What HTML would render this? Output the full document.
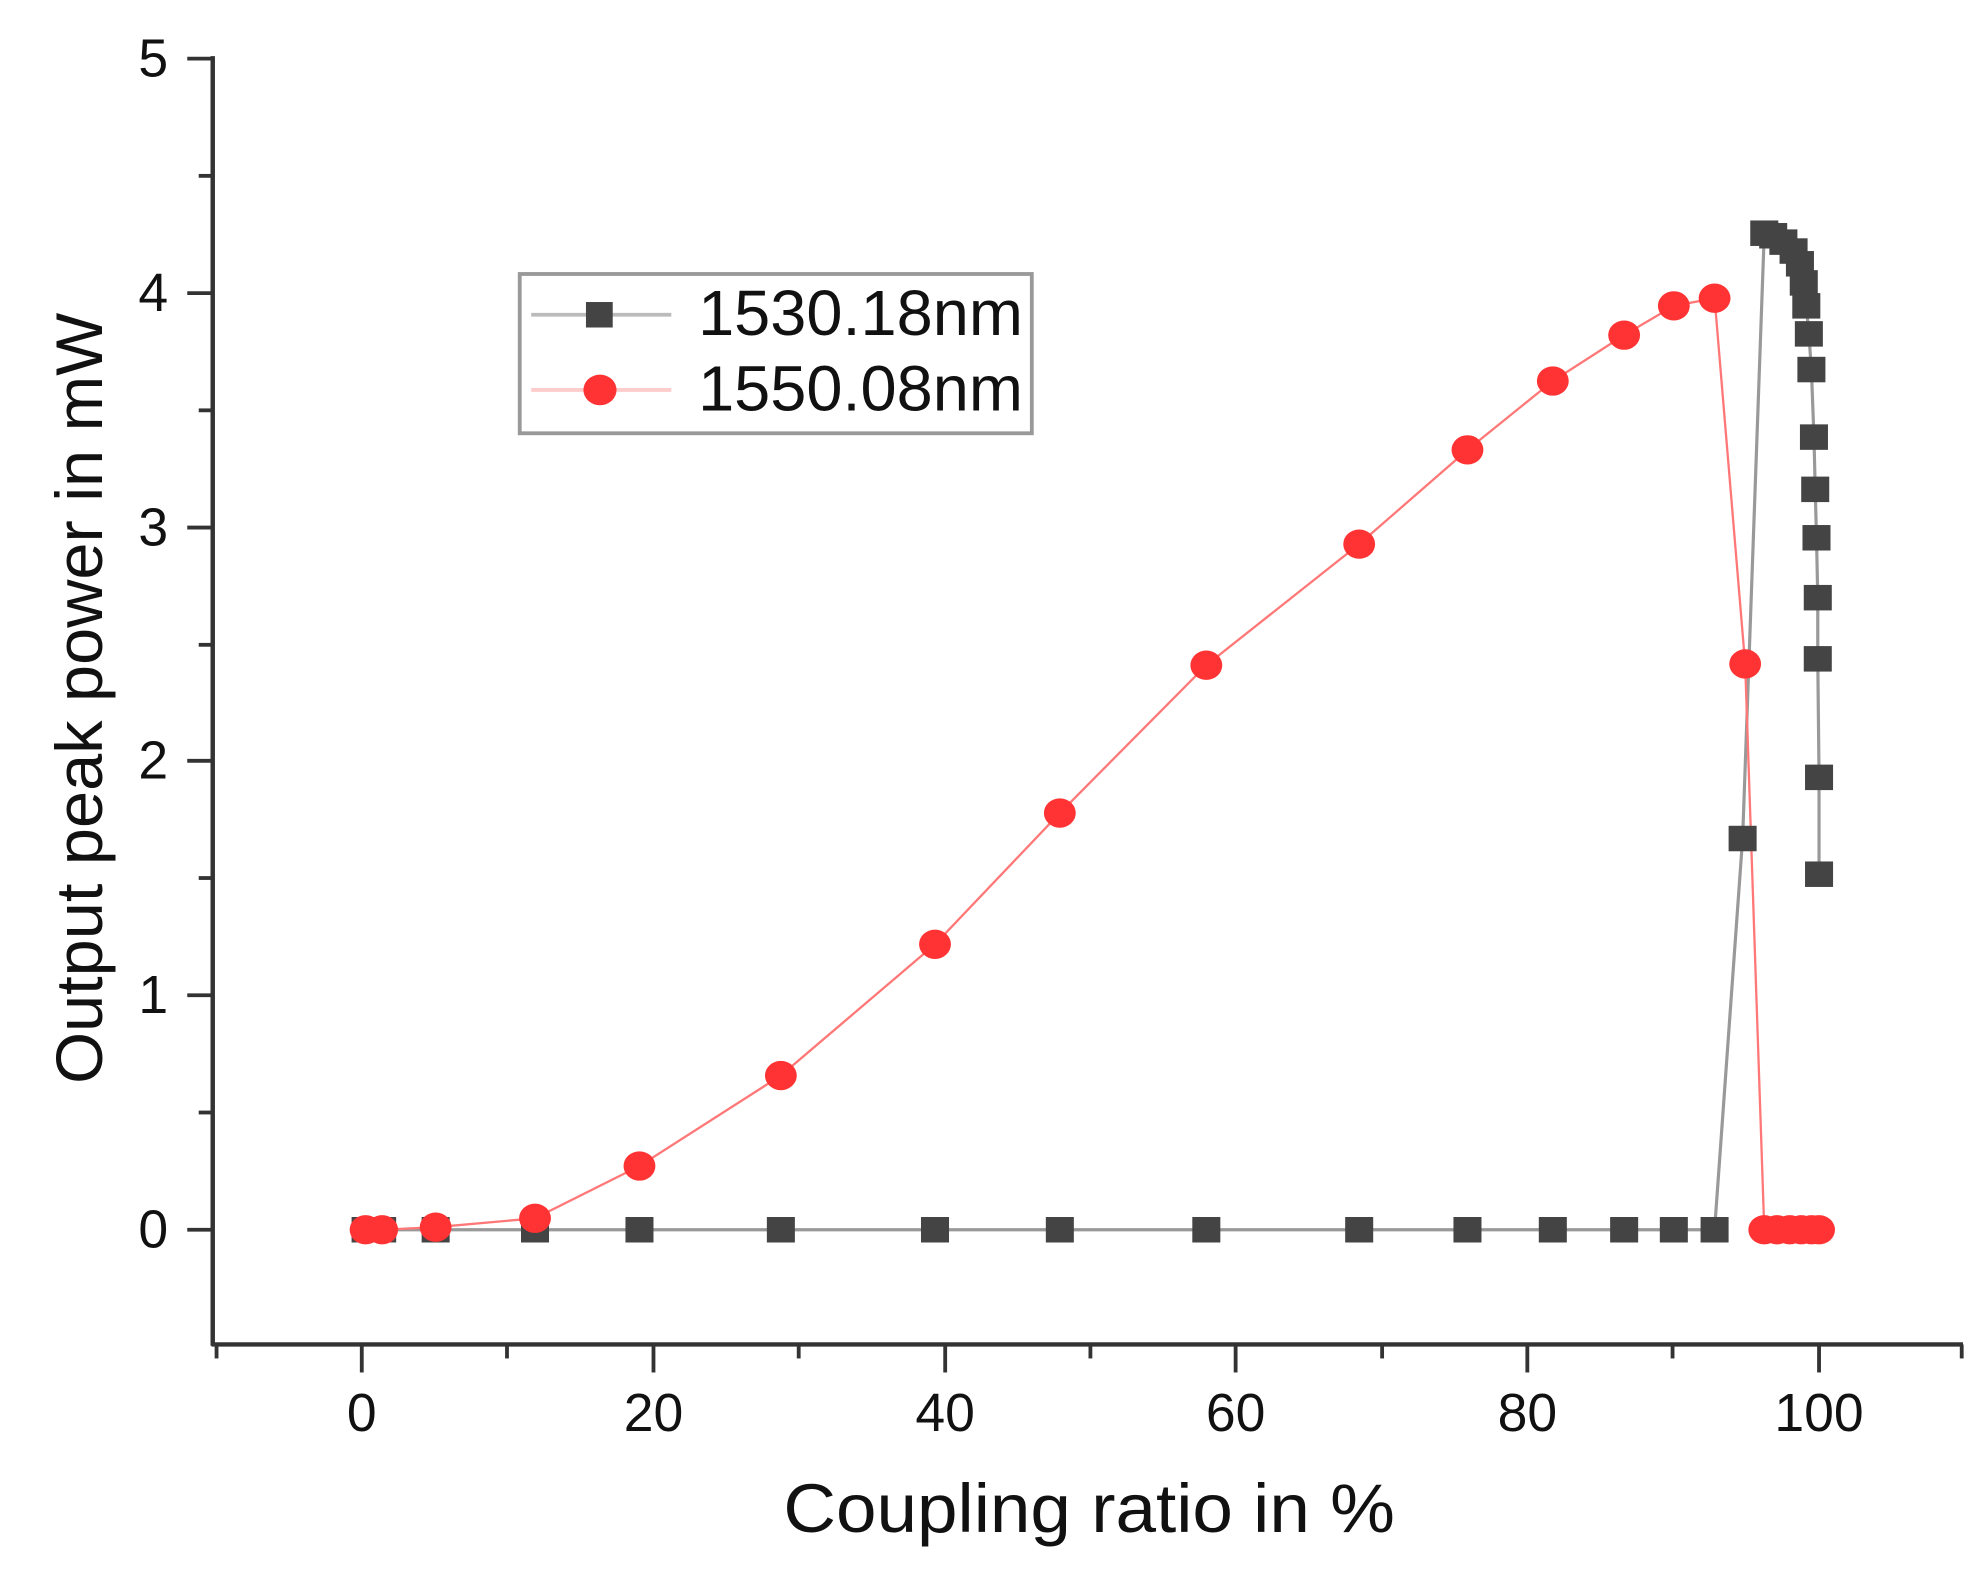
<!DOCTYPE html>
<html><head><meta charset="utf-8"><style>html,body{margin:0;padding:0;background:#fff}svg{display:block}</style></head>
<body>
<svg width="1977" height="1570" viewBox="0 0 1552 1232" preserveAspectRatio="none" xmlns="http://www.w3.org/2000/svg" font-family="Liberation Sans, sans-serif">
<rect width="1552" height="1232" fill="#fff"/>
<g stroke="#333" stroke-width="3.5" fill="none">
<line x1="167" y1="44" x2="167" y2="1056"/>
<line x1="166" y1="1055" x2="1541" y2="1055"/>
</g>
<g stroke="#333" stroke-width="3">
<line x1="147" y1="46" x2="167" y2="46"/><line x1="147" y1="230" x2="167" y2="230"/><line x1="147" y1="414" x2="167" y2="414"/><line x1="147" y1="597" x2="167" y2="597"/><line x1="147" y1="781" x2="167" y2="781"/><line x1="147" y1="965" x2="167" y2="965"/>
<line x1="156" y1="138" x2="167" y2="138"/><line x1="156" y1="322" x2="167" y2="322"/><line x1="156" y1="506" x2="167" y2="506"/><line x1="156" y1="689" x2="167" y2="689"/><line x1="156" y1="873" x2="167" y2="873"/>
<line x1="284" y1="1055" x2="284" y2="1077"/><line x1="513" y1="1055" x2="513" y2="1077"/><line x1="742" y1="1055" x2="742" y2="1077"/><line x1="970" y1="1055" x2="970" y2="1077"/><line x1="1199" y1="1055" x2="1199" y2="1077"/><line x1="1428" y1="1055" x2="1428" y2="1077"/>
<line x1="170" y1="1055" x2="170" y2="1066"/><line x1="398" y1="1055" x2="398" y2="1066"/><line x1="627" y1="1055" x2="627" y2="1066"/><line x1="856" y1="1055" x2="856" y2="1066"/><line x1="1085" y1="1055" x2="1085" y2="1066"/><line x1="1313" y1="1055" x2="1313" y2="1066"/><line x1="1540" y1="1055" x2="1540" y2="1066"/>
</g>
<g font-size="42" fill="#111" text-anchor="end">
<text x="132" y="60">5</text><text x="132" y="244">4</text><text x="132" y="428">3</text><text x="132" y="611">2</text><text x="132" y="795">1</text><text x="132" y="979">0</text>
</g>
<g font-size="42" fill="#111" text-anchor="middle">
<text x="284" y="1123">0</text><text x="513" y="1123">20</text><text x="742" y="1123">40</text><text x="970" y="1123">60</text><text x="1199" y="1123">80</text><text x="1428" y="1123">100</text>
</g>
<text x="855" y="1202" font-size="54" text-anchor="middle" fill="#111" textLength="480" lengthAdjust="spacingAndGlyphs">Coupling ratio in %</text>
<text transform="translate(80,548) rotate(-90)" font-size="52" text-anchor="middle" fill="#111" textLength="605" lengthAdjust="spacingAndGlyphs">Output peak power in mW</text>
<polyline fill="none" stroke="#999" stroke-width="2.5" points="287,965 300,965 342,965 420,965 502,965 613,965 734,965 832,965 947,965 1067,965 1152,965 1219,965 1275,965 1314,965 1346,965 1368,658 1385,183 1392,185 1400,190 1408,197 1413,207 1416,222 1418,240 1420,262 1422,290 1424,343 1425,384 1426,422 1427,469 1427,517 1428,610 1428,686"/>
<polyline fill="none" stroke="#f77" stroke-width="1.8" points="287,965 300,965 342,963 420,956 502,915 613,844 734,741 832,638 947,522 1067,427 1152,353 1219,299 1275,263 1314,240 1346,234 1370,521 1385,965 1395,965 1405,965 1414,965 1422,965 1428,965"/>
<g fill="#444">
<rect x="276" y="955" width="22" height="20"/><rect x="289" y="955" width="22" height="20"/><rect x="331" y="955" width="22" height="20"/><rect x="409" y="955" width="22" height="20"/><rect x="491" y="955" width="22" height="20"/><rect x="602" y="955" width="22" height="20"/><rect x="723" y="955" width="22" height="20"/><rect x="821" y="955" width="22" height="20"/><rect x="936" y="955" width="22" height="20"/><rect x="1056" y="955" width="22" height="20"/><rect x="1141" y="955" width="22" height="20"/><rect x="1208" y="955" width="22" height="20"/><rect x="1264" y="955" width="22" height="20"/><rect x="1303" y="955" width="22" height="20"/><rect x="1335" y="955" width="22" height="20"/>
<rect x="1357" y="648" width="22" height="20"/><rect x="1374" y="173" width="22" height="20"/><rect x="1381" y="175" width="22" height="20"/><rect x="1389" y="180" width="22" height="20"/><rect x="1397" y="187" width="22" height="20"/><rect x="1402" y="197" width="22" height="20"/><rect x="1405" y="212" width="22" height="20"/><rect x="1407" y="230" width="22" height="20"/><rect x="1409" y="252" width="22" height="20"/><rect x="1411" y="280" width="22" height="20"/><rect x="1413" y="333" width="22" height="20"/><rect x="1414" y="374" width="22" height="20"/><rect x="1415" y="412" width="22" height="20"/><rect x="1416" y="459" width="22" height="20"/><rect x="1416" y="507" width="22" height="20"/><rect x="1417" y="600" width="22" height="20"/><rect x="1417" y="676" width="22" height="20"/>
</g>
<g fill="#ff3333">
<ellipse cx="287" cy="965" rx="12.5" ry="11.5"/><ellipse cx="300" cy="965" rx="12.5" ry="11.5"/><ellipse cx="342" cy="963" rx="12.5" ry="11.5"/><ellipse cx="420" cy="956" rx="12.5" ry="11.5"/><ellipse cx="502" cy="915" rx="12.5" ry="11.5"/><ellipse cx="613" cy="844" rx="12.5" ry="11.5"/><ellipse cx="734" cy="741" rx="12.5" ry="11.5"/><ellipse cx="832" cy="638" rx="12.5" ry="11.5"/><ellipse cx="947" cy="522" rx="12.5" ry="11.5"/><ellipse cx="1067" cy="427" rx="12.5" ry="11.5"/><ellipse cx="1152" cy="353" rx="12.5" ry="11.5"/><ellipse cx="1219" cy="299" rx="12.5" ry="11.5"/><ellipse cx="1275" cy="263" rx="12.5" ry="11.5"/><ellipse cx="1314" cy="240" rx="12.5" ry="11.5"/><ellipse cx="1346" cy="234" rx="12.5" ry="11.5"/><ellipse cx="1370" cy="521" rx="12.5" ry="11.5"/>
<ellipse cx="1385" cy="965" rx="12.5" ry="11.5"/><ellipse cx="1395" cy="965" rx="12.5" ry="11.5"/><ellipse cx="1405" cy="965" rx="12.5" ry="11.5"/><ellipse cx="1414" cy="965" rx="12.5" ry="11.5"/><ellipse cx="1422" cy="965" rx="12.5" ry="11.5"/><ellipse cx="1428" cy="965" rx="12.5" ry="11.5"/>
</g>
<rect x="408" y="215" width="402" height="125" fill="#fff" stroke="#999" stroke-width="3"/>
<line x1="417" y1="247" x2="527" y2="247" stroke="#bbb" stroke-width="3"/>
<rect x="460" y="237" width="21" height="20" fill="#444"/>
<line x1="417" y1="306" x2="527" y2="306" stroke="#fcc" stroke-width="3"/>
<ellipse cx="471" cy="306" rx="13" ry="12" fill="#ff3333"/>
<text x="548" y="263" font-size="50" fill="#111" textLength="255" lengthAdjust="spacingAndGlyphs">1530.18nm</text>
<text x="548" y="322" font-size="50" fill="#111" textLength="255" lengthAdjust="spacingAndGlyphs">1550.08nm</text>
</svg>
</body></html>
